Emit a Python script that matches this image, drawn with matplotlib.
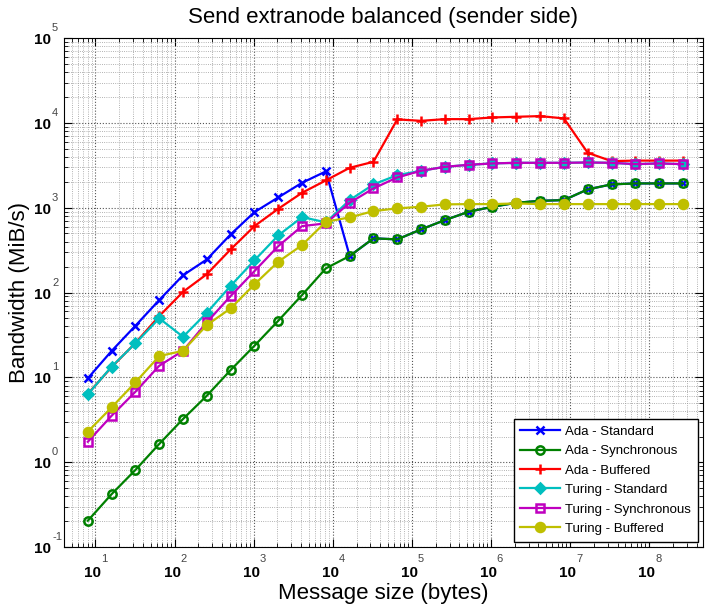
import numpy as np
import matplotlib.pyplot as plt
from matplotlib.ticker import LogLocator, NullFormatter
from matplotlib.transforms import offset_copy

plt.rcParams['font.family'] = ['Liberation Sans', 'DejaVu Sans']

# message sizes: 2^3 .. 2^28 bytes
sizes = [2.0 ** k for k in range(3, 29)]

ada_sync = [0.204, 0.42, 0.81, 1.64, 3.23, 6.08, 12.2, 23.6, 46.5, 93.5, 193, 270,
            436, 424, 556, 716, 897, 1028, 1145, 1208, 1232, 1648, 1888, 1937, 1937, 1937]
ada_std = [9.75, 20.5, 40.6, 81.6, 160, 246, 485, 889, 1325, 1972, 2685, 270,
           436, 424, 556, 716, 897, 1028, 1145, 1208, 1232, 1648, 1888, 1937, 1937, 1937]
ada_buf = [6.4, 13.2, 25.5, 52.8, 102, 165, 323, 608, 973, 1502, 2103, 2961,
           3484, 11020, 10600, 11100, 11100, 11620, 11830, 12050, 11320, 4450, 3550, 3600, 3600, 3600]
tur_std = [6.3, 13.4, 25.2, 49.7, 30.1, 57.8, 120, 240, 472, 777, 673, 1232,
           1885, 2427, 2730, 3040, 3210, 3335, 3390, 3390, 3390, 3420, 3390, 3270, 3335, 3270]
tur_sync = [1.74, 3.53, 6.77, 13.7, 20.6, 44.6, 91, 179, 353, 608, 655, 1145,
            1692, 2280, 2730, 3040, 3210, 3335, 3390, 3390, 3390, 3420, 3390, 3270, 3335, 3270]
tur_buf = [2.29, 4.43, 8.74, 17.8, 20.6, 41.4, 65.1, 125, 231, 363, 684, 770,
           914, 984, 1028, 1096, 1105, 1105, 1125, 1105, 1105, 1105, 1105, 1105, 1105, 1105]

x_exps = [1, 2, 3, 4, 5, 6, 7, 8]
y_exps = [-1, 0, 1, 2, 3, 4, 5]

series = [
    ('Ada - Standard', ada_std, (0, 0, 1), 'x', 6, True),
    ('Ada - Synchronous', ada_sync, (0, 0.5, 0), 'o', 6, False),
    ('Ada - Buffered', ada_buf, (1, 0, 0), '+', 7, True),
    ('Turing - Standard', tur_std, (0, 0.75, 0.75), 'D', 5, True),
    ('Turing - Synchronous', tur_sync, (0.75, 0, 0.75), 's', 6, False),
    ('Turing - Buffered', tur_buf, (0.75, 0.75, 0), 'o', 6.5, True),
]

fig = plt.figure(figsize=(7.05, 6.06), dpi=100)
ax = fig.add_axes([0.0908, 0.0974, 0.9062, 0.8396])

for label, vals, col, mk, ms, filled in series:
    ax.plot(sizes, vals, color=col, marker=mk, lw=1.6, ms=ms, mew=1.8,
            mfc=col if filled else 'none', mec=col, label=label)

ax.set_xscale('log')
ax.set_yscale('log')
ax.set_xlim(4, 4.8e8)
ax.set_ylim(1e-1, 1e5)

ax.xaxis.set_major_locator(LogLocator(base=10, numticks=20))
ax.yaxis.set_major_locator(LogLocator(base=10, numticks=20))
ax.xaxis.set_minor_locator(LogLocator(base=10, subs=np.arange(2, 10), numticks=20))
ax.yaxis.set_minor_locator(LogLocator(base=10, subs=np.arange(2, 10), numticks=20))
ax.xaxis.set_major_formatter(NullFormatter())
ax.yaxis.set_major_formatter(NullFormatter())
ax.xaxis.set_minor_formatter(NullFormatter())
ax.yaxis.set_minor_formatter(NullFormatter())

ax.tick_params(which='both', direction='in', top=True, right=True)
ax.tick_params(which='major', length=6)
ax.tick_params(which='minor', length=3)
ax.grid(True, which='major', ls=':', color='#555555', lw=0.8)
ax.grid(True, which='minor', ls=':', color='#999999', lw=0.6)

# gnuplot-like tick labels: "10" with the exponent set above and to the right
xt = ax.get_xaxis_transform()
yt = ax.get_yaxis_transform()
for e in x_exps:
    ax.text(10.0 ** e, 0, '10', transform=offset_copy(xt, fig, x=-2.5, y=-26, units='dots'),
            ha='center', va='center', fontsize=11, fontweight='bold', clip_on=False)
    ax.text(10.0 ** e, 0, str(e), transform=offset_copy(xt, fig, x=6, y=-12, units='dots'),
            ha='left', va='center', fontsize=8, color='#444444', clip_on=False)
for e in y_exps:
    ax.text(0, 10.0 ** e, '10', transform=offset_copy(yt, fig, x=-13, y=-2, units='dots'),
            ha='right', va='center', fontsize=11, fontweight='bold', clip_on=False)
    ax.text(0, 10.0 ** e, str(e), transform=offset_copy(yt, fig, x=-12, y=10, units='dots'),
            ha='left', va='center', fontsize=8, color='#444444', clip_on=False)

fig.text(383 / 705, 1 - 17 / 606, 'Send extranode balanced (sender side)',
         ha='center', va='center', fontsize=16)
fig.text(383 / 705, 1 - 593 / 606, 'Message size (bytes)',
         ha='center', va='center', fontsize=16)
fig.text(20 / 705, 1 - 292 / 606, 'Bandwidth (MiB/s)',
         ha='center', va='center', fontsize=16, rotation=90)

leg = ax.legend(loc='lower right', fontsize=9.5, handlelength=3.0, handletextpad=0.4,
                labelspacing=0.55, borderpad=0.5, fancybox=False,
                framealpha=1, edgecolor='black', borderaxespad=0.4)
leg.get_frame().set_linewidth(1.0)

fig.savefig('out.png', dpi=100)
